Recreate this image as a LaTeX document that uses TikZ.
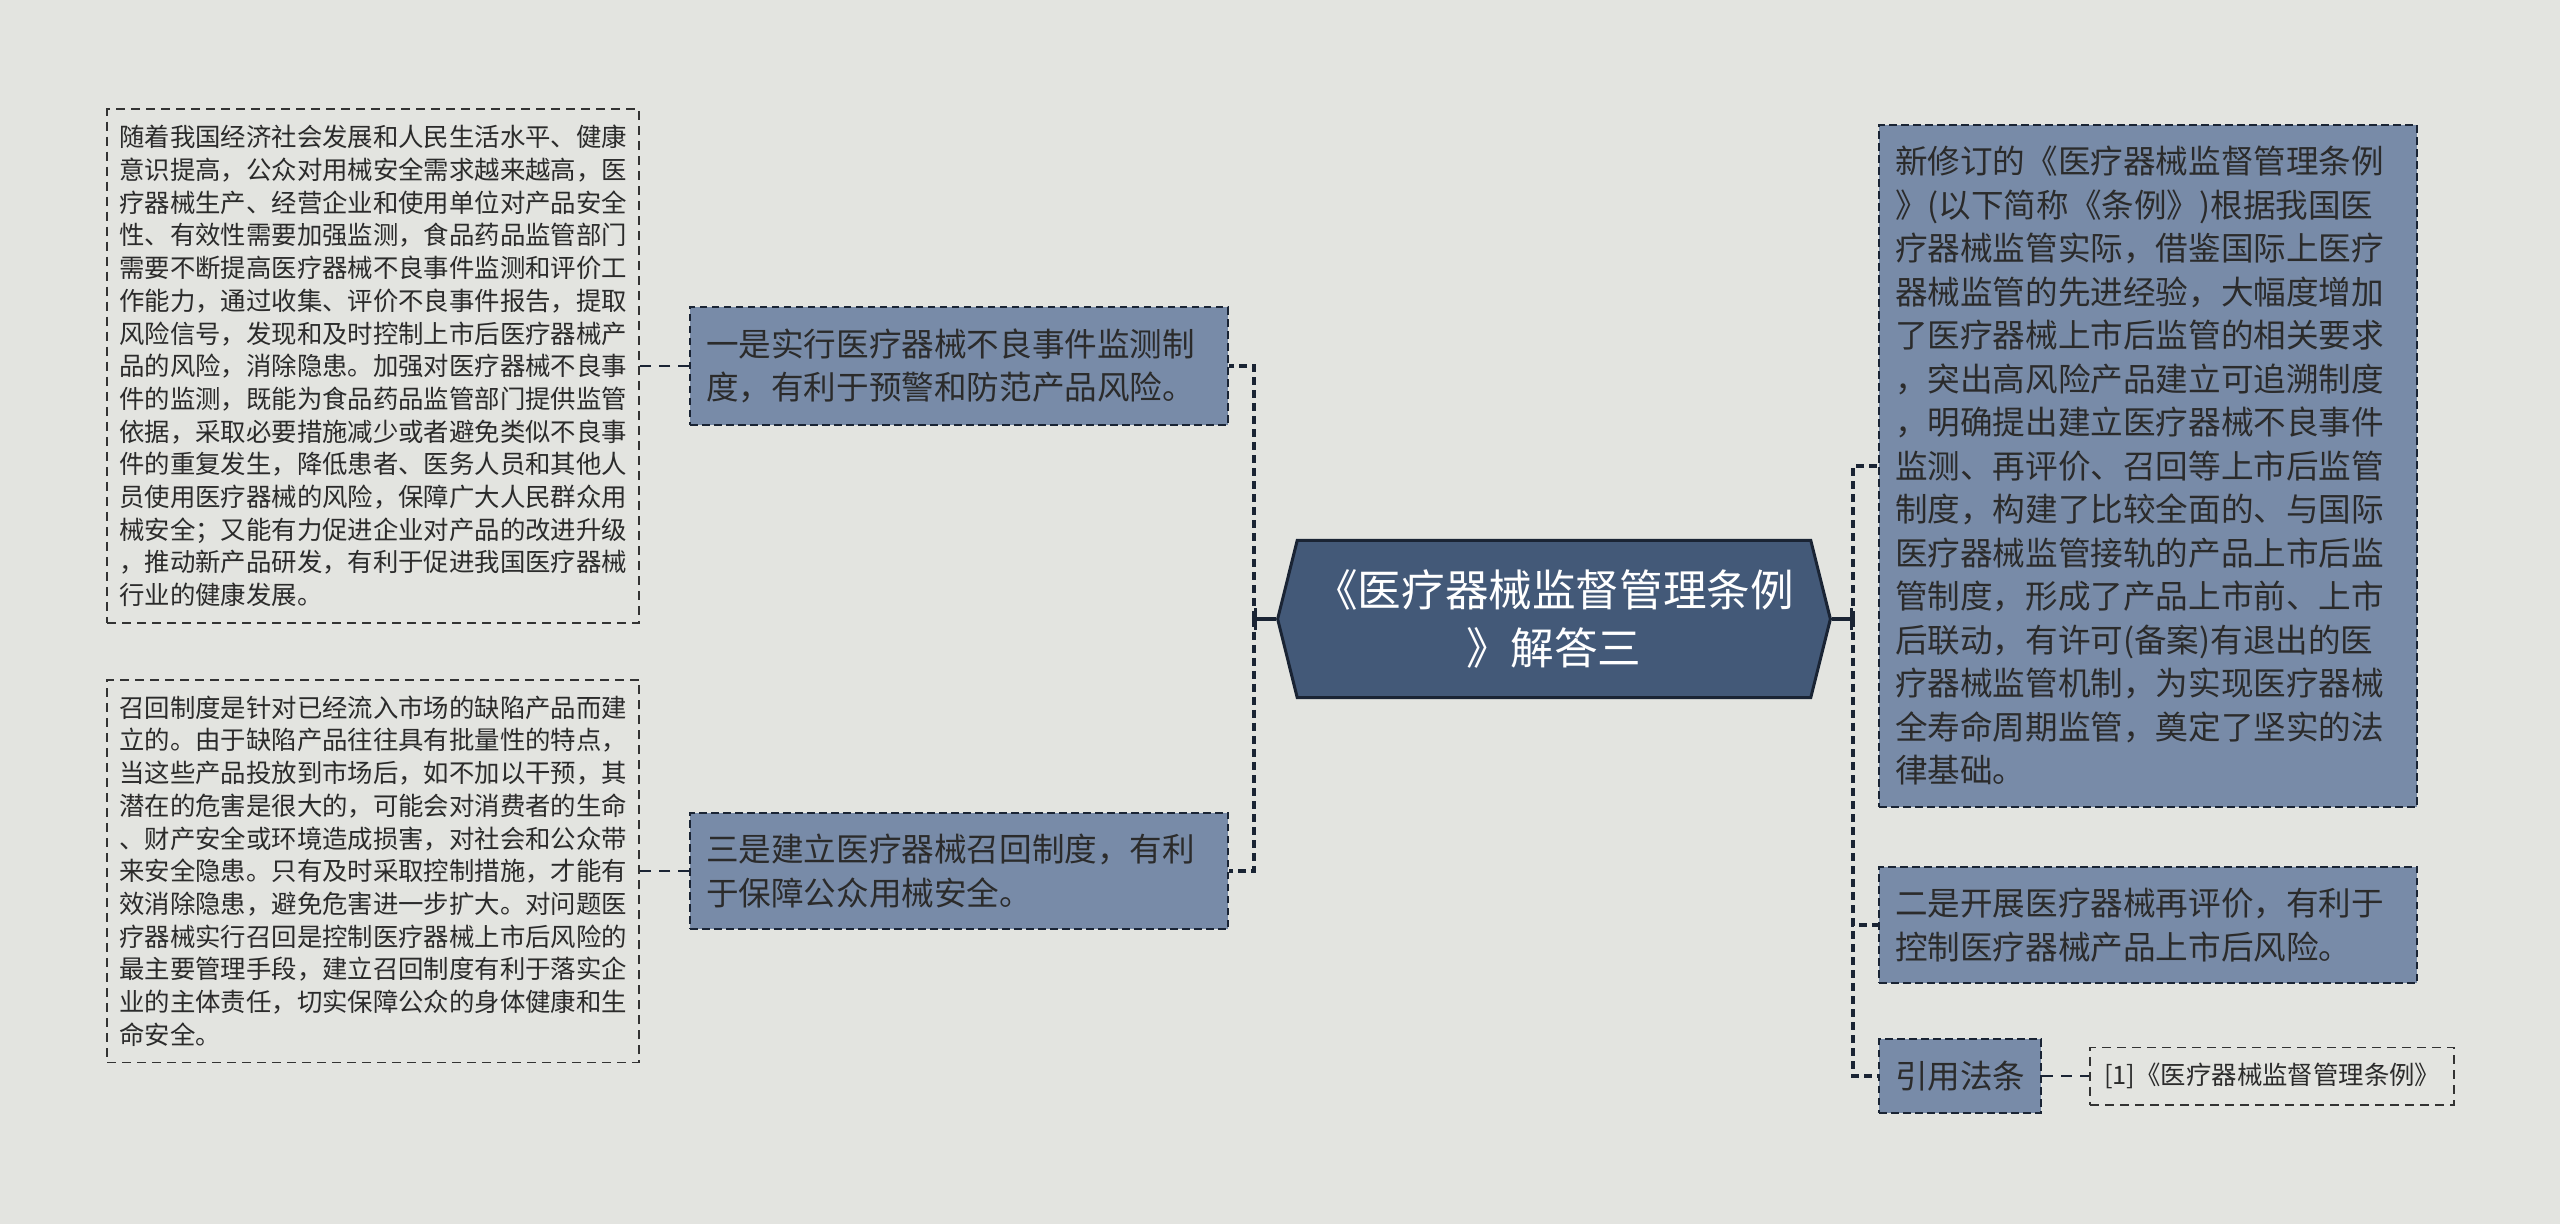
\documentclass[tikz,border=0pt]{standalone}
\usepackage{fontspec}
\newfontfamily\cjk{Noto Sans CJK SC}
\usetikzlibrary{positioning,shapes.symbols,arrows.meta}

\definecolor{bgcol}{HTML}{E3E4E0}
\definecolor{boxcol}{HTML}{788BA8}
\definecolor{hubcol}{HTML}{435978}
\definecolor{edgecol}{HTML}{1A2434}
\definecolor{inkcol}{HTML}{2B2B2B}
\definecolor{notecol}{HTML}{333333}

\tikzset{
  topic/.style={draw=edgecol,fill=boxcol,line width=1pt,dash pattern=on 3.8pt off 2.2pt,
    text=inkcol,align=left,inner xsep=8pt,inner ysep=10.7pt,
    font=\cjk\fontsize{16.3pt}{21.75pt}\selectfont},
  wide/.style={text width=253pt},
  note/.style={draw=notecol,line width=0.8pt,dash pattern=on 4.5pt off 3pt,
    text=inkcol,align=left,inner xsep=6pt,inner ysep=8pt,
    font=\cjk\fontsize{12.7pt}{16.35pt}\selectfont},
  hub/.style={shape=signal,signal to=east and west,signal pointer angle=152,
    draw=edgecol,fill=hubcol,line width=1.5pt,text=white,align=center,
    inner xsep=8.5pt,inner ysep=14.4pt,
    font=\cjk\fontsize{21.8pt}{29.4pt}\selectfont},
  stub/.style={edgecol,line width=1.6pt,-{Bar[width=11pt]}},
  bus/.style={edgecol,line width=1.6pt,dash pattern=on 4pt off 2.5pt},
  twig/.style={edgecol,line width=1.1pt,dash pattern=on 5.5pt off 4pt},
}

\begin{document}
\begin{tikzpicture}[x=0.5pt,y=-0.5pt]
\useasboundingbox (0,0) rectangle (2560,1224);
\fill[bgcol] (0,0) rectangle (2560,1224);

\node[hub] (hub) at (1554,619) {《医疗器械监督管理条例\\》解答三};

% left branch
\node[topic,wide,anchor=east] (one) at (1229,366)
  {一是实行医疗器械不良事件监测制\\度，有利于预警和防范产品风险。};
\node[topic,wide,anchor=east] (three) at (1229,871)
  {三是建立医疗器械召回制度，有利\\于保障公众用械安全。};
\node[note,left=24.5pt of one] (oneNote)
  {随着我国经济社会发展和人民生活水平、健康\\
   意识提高，公众对用械安全需求越来越高，医\\
   疗器械生产、经营企业和使用单位对产品安全\\
   性、有效性需要加强监测，食品药品监管部门\\
   需要不断提高医疗器械不良事件监测和评价工\\
   作能力，通过收集、评价不良事件报告，提取\\
   风险信号，发现和及时控制上市后医疗器械产\\
   品的风险，消除隐患。加强对医疗器械不良事\\
   件的监测，既能为食品药品监管部门提供监管\\
   依据，采取必要措施减少或者避免类似不良事\\
   件的重复发生，降低患者、医务人员和其他人\\
   员使用医疗器械的风险，保障广大人民群众用\\
   械安全；又能有力促进企业对产品的改进升级\\
   ，推动新产品研发，有利于促进我国医疗器械\\
   行业的健康发展。};
\node[note,left=24.5pt of three] (threeNote)
  {召回制度是针对已经流入市场的缺陷产品而建\\
   立的。由于缺陷产品往往具有批量性的特点，\\
   当这些产品投放到市场后，如不加以干预，其\\
   潜在的危害是很大的，可能会对消费者的生命\\
   、财产安全或环境造成损害，对社会和公众带\\
   来安全隐患。只有及时采取控制措施，才能有\\
   效消除隐患，避免危害进一步扩大。对问题医\\
   疗器械实行召回是控制医疗器械上市后风险的\\
   最主要管理手段，建立召回制度有利于落实企\\
   业的主体责任，切实保障公众的身体健康和生\\
   命安全。};

% right branch
\node[topic,wide,anchor=west] (basis) at (1878,466)
  {新修订的《医疗器械监督管理条例\\
   》(以下简称《条例》)根据我国医\\
   疗器械监管实际，借鉴国际上医疗\\
   器械监管的先进经验，大幅度增加\\
   了医疗器械上市后监管的相关要求\\
   ，突出高风险产品建立可追溯制度\\
   ，明确提出建立医疗器械不良事件\\
   监测、再评价、召回等上市后监管\\
   制度，构建了比较全面的、与国际\\
   医疗器械监管接轨的产品上市后监\\
   管制度，形成了产品上市前、上市\\
   后联动，有许可(备案)有退出的医\\
   疗器械监管机制，为实现医疗器械\\
   全寿命周期监管，奠定了坚实的法\\
   律基础。};
\node[topic,wide,anchor=west] (two) at (1878,925)
  {二是开展医疗器械再评价，有利于\\控制医疗器械产品上市后风险。};
\node[topic,anchor=west] (law) at (1878,1076) {引用法条};
\node[note,inner xsep=7pt,inner ysep=7.9pt,right=23.5pt of law] (lawItem)
  {[1]《医疗器械监督管理条例》};

% connectors
\coordinate (lbus) at (1254,619);
\coordinate (rbus) at (1853,619);
\draw[stub] (hub.west) -- (lbus);
\draw[stub] (hub.east) -- (rbus);
\draw[bus] (lbus) |- (one.east);
\draw[bus] (lbus) |- (three.east);
\draw[bus] (rbus) |- (basis.west);
\draw[bus] (rbus) |- (two.west);
\draw[bus] (rbus) |- (law.west);
\draw[twig] (one.west) -- (oneNote.east);
\draw[twig] (three.west) -- (threeNote.east);
\draw[twig] (law.east) -- (lawItem.west);
\end{tikzpicture}
\end{document}
